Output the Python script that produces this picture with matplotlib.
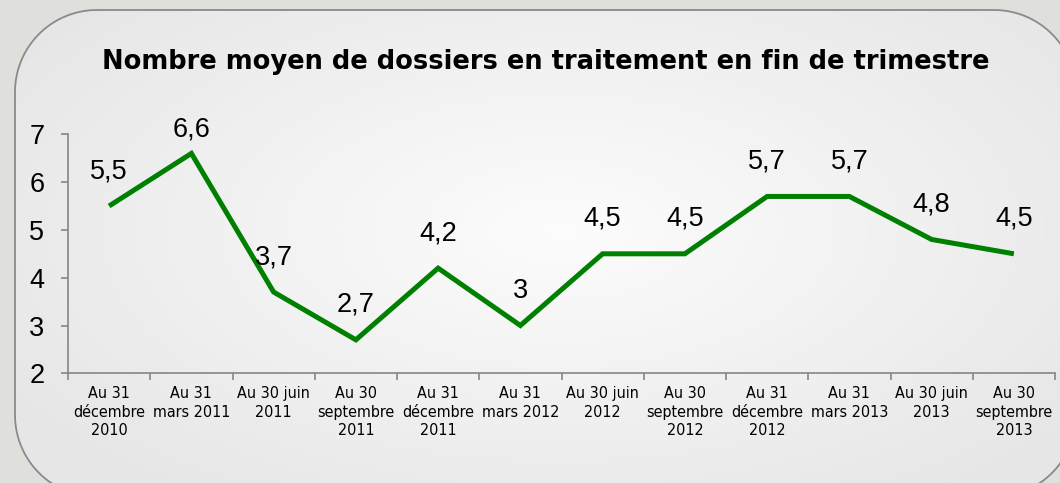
import numpy as np
import matplotlib.pyplot as plt
from matplotlib.patches import Polygon

# data
dates = ["Au 31\ndécembre\n2010", "Au 31\nmars 2011", "Au 30 juin\n2011", "Au 30\nseptembre\n2011",
         "Au 31\ndécembre\n2011", "Au 31\nmars 2012", "Au 30 juin\n2012", "Au 30\nseptembre\n2012",
         "Au 31\ndécembre\n2012", "Au 31\nmars 2013", "Au 30 juin\n2013", "Au 30\nseptembre\n2013"]
values = [5.5, 6.6, 3.7, 2.7, 4.2, 3.0, 4.5, 4.5, 5.7, 5.7, 4.8, 4.5]
yticks = [2, 3, 4, 5, 6, 7]

W, H = 1060, 483
fig = plt.figure(figsize=(W / 100, H / 100), dpi=100)
fig.patch.set_facecolor("#dfe0db")

# background axes in pixel units (y pointing down)
bg = fig.add_axes([0, 0, 1, 1])
bg.set_xlim(0, W)
bg.set_ylim(H, 0)
bg.axis("off")


def rounded_rect(x0, y0, x1, y1, rad, n=30):
    pts = []
    corners = [(x1 - rad, y0 + rad, -90, 0), (x1 - rad, y1 - rad, 0, 90),
               (x0 + rad, y1 - rad, 90, 180), (x0 + rad, y0 + rad, 180, 270)]
    for cx, cy, a0, a1 in corners:
        t = np.radians(np.linspace(a0, a1, n))
        pts += list(zip(cx + rad * np.cos(t), cy + rad * np.sin(t)))
    return np.array(pts)


panel = Polygon(rounded_rect(15, 10, 1076, 497, 82), closed=True,
                fc="none", ec="#8a8a8a", lw=1.3, zorder=2)
bg.add_patch(panel)
yy, xx = np.mgrid[0:H, 0:W]
r = np.sqrt(((xx - 560) / 600.0) ** 2 + ((yy - 230) / 300.0) ** 2)
shade = np.clip(0.99 - 0.08 * r, 0.905, 1.0)
img = bg.imshow(np.dstack([shade] * 3), extent=(0, W, H, 0), zorder=1, aspect="auto")
img.set_clip_path(panel)
bg.set_xlim(0, W)
bg.set_ylim(H, 0)
bg.text(546, 62, "Nombre moyen de dossiers en traitement en fin de trimestre",
        ha="center", va="center", fontsize=18.5, fontweight="bold", family="DejaVu Sans")

# chart
ax = fig.add_axes([68 / W, 1 - 373.3 / H, (1055 - 68) / W, (373.3 - 134.3) / H])
ax.patch.set_alpha(0)
x = np.arange(len(values)) + 0.5
ax.plot(x, values, color="#008000", lw=3.6, solid_joinstyle="miter", solid_capstyle="butt")
for xi, v in zip(x, values):
    lab = ("%g" % v).replace(".", ",")
    ly = min(v + 0.73, 7.11)  # labels kept inside the plot top, as in the source
    ax.text(xi, ly, lab, ha="center", va="center", fontsize=19.5, family="Liberation Sans")

ax.set_xlim(0, len(values))
ax.set_ylim(2, 7)
ax.set_yticks(yticks)
ax.set_yticklabels([str(t) for t in yticks], fontsize=19.5, family="Liberation Sans")
ax.set_xticks(np.arange(len(values) + 1))
ax.set_xticklabels([])
ax.set_xticks(x, minor=True)
ax.set_xticklabels(dates, minor=True, fontsize=11.5, linespacing=1.32,
                   family="DejaVu Sans", fontstretch="condensed")
ax.tick_params(axis="x", which="minor", length=0, pad=9)
ax.tick_params(axis="both", which="major", length=5, color="#868686", width=1.2)
ax.tick_params(axis="y", pad=12)
for s in ["top", "right"]:
    ax.spines[s].set_visible(False)
for s in ["left", "bottom"]:
    ax.spines[s].set_color("#868686")
    ax.spines[s].set_linewidth(1.2)

fig.savefig("out.png", dpi=100, facecolor=fig.get_facecolor())
